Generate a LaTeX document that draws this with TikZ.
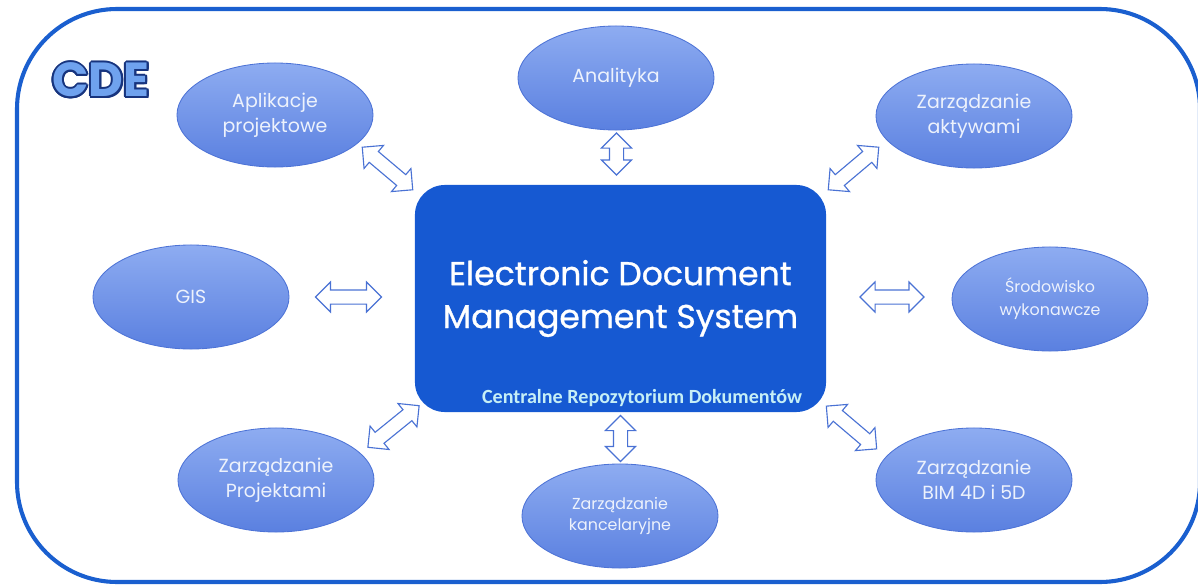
\documentclass[tikz,border=0pt]{standalone}
\usepackage{fontspec}
\setmainfont{Poppins}
\newfontfamily\titlefont{Poppins}[FakeBold=0.9]
\newfontfamily\repofont{Carlito}
\usetikzlibrary{positioning, shapes.geometric, shapes.arrows, calc}

\definecolor{frameblue}{HTML}{1A5FCF}
\definecolor{coreblue}{HTML}{1659D2}
\definecolor{elltop}{HTML}{8EACF1}
\definecolor{ellbot}{HTML}{5A80E0}
\definecolor{ellline}{HTML}{4D73D6}
\definecolor{elltext}{HTML}{EDF2FC}
\definecolor{arrowline}{HTML}{4A72D4}
\definecolor{repotext}{HTML}{C6EFF6}
\definecolor{cdedark}{HTML}{17347E}
\definecolor{cdelight}{HTML}{6FA2EE}

% outlined letters for the CDE label
\newcommand{\outlined}[1]{%
    \makebox[0pt][l]{\foreach \a in {0,22.5,...,337.5}{%
        \pgfmathsetlengthmacro\dx{1.4pt*cos(\a)}%
        \pgfmathsetlengthmacro\dy{1.4pt*sin(\a)}%
        \makebox[0pt][l]{\hspace*{\dx}\raisebox{\dy}{\color{cdedark}#1}}}}%
    {\color{cdelight}#1}}

\begin{document}
\begin{tikzpicture}[
                x=0.025cm, y=-0.025cm,
                module/.style={ellipse, draw=ellline, line width=0.6pt, top color=elltop, bottom color=ellbot,
                    minimum width=4.9cm, minimum height=2.6cm, align=center, text=elltext,
                    font=\fontsize{13.5}{18}\selectfont},
                small/.style={font=\fontsize{11.3}{#1}\selectfont},
                core/.style={rectangle, rounded corners=0.75cm, fill=coreblue, minimum width=10.275cm,
                    minimum height=5.675cm, align=center, text=white, font=\titlefont\fontsize{23.5}{30.5}\selectfont},
                link/.style={double arrow, draw=arrowline, fill=white, line width=0.8pt, inner xsep=0pt,
                    inner ysep=0.1625cm, double arrow head extend=0.2cm, minimum height=#1, sloped},
            ]
                \useasboundingbox (0,0) rectangle (1198,585);

                % Draw the outer frame
                \draw[frameblue, line width=2.9pt, rounded corners=2.5cm] (17,9) rectangle (1200,582);

                % Draw the CDE label
                \node[inner sep=0pt, font=\fontsize{34}{34}\selectfont\bfseries] (cde) at (101,80) {\outlined{CDE}};

                % Draw the central system box
                \node[core] (edms) at (620.5,298.5) {Electronic Document\\Management System};
                \node[anchor=base east, inner sep=0pt, text=repotext, font=\repofont\bfseries\fontsize{14.3}{16}\selectfont]
                    (repo) at ([xshift=-0.6cm, yshift=0.225cm]edms.south east) {Centralne Repozytorium Dokumentów};

                % Draw the modules around it
                \node[module] (ana) at (616,78) {Analityka};
                \node[module] (apl) at (275,115) {Aplikacje\\projektowe};
                \node[module] (akt) at (974,116) {Zarządzanie\\aktywami};
                \node[module] (gis) at (191,297) {GIS};
                \node[module, small=16.5] (srod) at (1050,299) {Środowisko\\wykonawcze};
                \node[module] (proj) at (276,480) {Zarządzanie\\Projektami};
                \node[module, small=15] (kanc) at (620,516) {Zarządzanie\\kancelaryjne};
                \node[module] (bim) at (974,480) {Zarządzanie\\BIM 4D i 5D};

                % Connect every module with the central box
                \foreach \name / \xa / \ya / \xb / \yb / \len in {
                        apl/362/147/413/190/1.65cm, ana/616.5/134/616.5/174/1.05cm,
                        akt/828/190/879/147/1.65cm, gis/315/297/382/297/1.65cm,
                        srod/860/297/924/297/1.6cm, proj/367/448/420/405/1.65cm,
                        kanc/620.5/415/620.5/462/1.15cm, bim/825/405/878/450/1.65cm} {
                    \coordinate (\name-a) at (\xa,\ya);
                    \coordinate (\name-b) at (\xb,\yb);
                    \path (\name-a) -- node[link=\len] {} (\name-b);
                }
            \end{tikzpicture}
\end{document}
